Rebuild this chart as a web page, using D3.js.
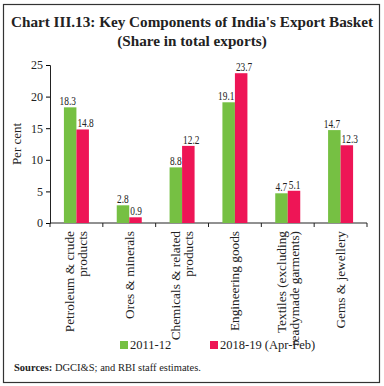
<!DOCTYPE html>
<html>
<head>
<meta charset="utf-8">
<script src="https://cdn.jsdelivr.net/npm/d3@7"></script>
<style>
  body { margin: 0; background: #fff; }
  svg text { font-family: "Liberation Serif", serif; fill: #222; }
</style>
</head>
<body>
<div id="viz-container"></div>
<script>
// data
const categories = [
  ["Petroleum & crude", "products"],
  ["Ores & minerals"],
  ["Chemicals & related", "products"],
  ["Engineering goods"],
  ["Textiles (excluding", "readymade garments)"],
  ["Gems & jewellery"]
];
const series2011 = [18.3, 2.8, 8.8, 19.1, 4.7, 14.7];
const series2018 = [14.8, 0.9, 12.2, 23.7, 5.1, 12.3];
const seriesNames = ["2011-12", "2018-19 (Apr-Feb)"];
const yTicks = [0, 5, 10, 15, 20, 25];
const colors = ["#76c043", "#ee1556"];

const W = 384, H = 386;
const svg = d3.select("#viz-container").append("svg")
    .attr("width", W).attr("height", H);

// frame
svg.append("rect").attr("x", 3.5).attr("y", 4.5).attr("width", 376).attr("height", 378)
    .attr("fill", "none").attr("stroke", "#333").attr("stroke-width", 1.2);

// title
svg.append("text").attr("x", 192).attr("y", 27).attr("text-anchor", "middle")
    .style("font-size", "15.2px").style("font-weight", "bold")
    .text("Chart III.13: Key Components of India's Export Basket");
svg.append("text").attr("x", 192).attr("y", 46).attr("text-anchor", "middle")
    .style("font-size", "15.2px").style("font-weight", "bold")
    .text("(Share in total exports)");

const m = { left: 50, right: 367, top: 65, bottom: 223 };
const x = d3.scaleBand().domain(d3.range(categories.length)).range([m.left, m.right]);
const y = d3.scaleLinear().domain([0, 25]).range([m.bottom, m.top]);
const barW = 12.5;

// y axis
const yAxis = svg.append("g").attr("transform", `translate(${m.left},0)`)
    .call(d3.axisLeft(y).tickValues(yTicks).tickSize(4).tickPadding(3));
yAxis.selectAll("text").style("font-size", "12px");
yAxis.select(".domain").attr("stroke", "#222");

svg.append("text").attr("transform", `translate(21,${(m.top + m.bottom) / 2}) rotate(-90)`)
    .attr("text-anchor", "middle").style("font-size", "13px").text("Per cent");

// x axis with ticks at band boundaries
const xg = svg.append("g").attr("transform", `translate(0,${m.bottom})`);
xg.append("line").attr("x1", m.left).attr("x2", m.right).attr("stroke", "#222");
const bounds = d3.range(categories.length + 1).map(i => m.left + i * x.bandwidth());
xg.selectAll("line.tick").data(bounds).join("line").attr("class", "tick")
    .attr("x1", d => d).attr("x2", d => d).attr("y1", 0).attr("y2", 4).attr("stroke", "#222");

// category labels
const lab = svg.selectAll("g.cat").data(categories).join("g").attr("class", "cat")
    .attr("transform", (d, i) => `translate(${x(i) + x.bandwidth() / 2},${m.bottom + 8}) rotate(-90)`);
lab.each(function(lines) {
  const g = d3.select(this);
  const n = lines.length;
  lines.forEach((t, j) => {
    g.append("text").attr("x", 0).attr("y", (j - (n - 1) / 2) * 13 + 4.5)
      .attr("text-anchor", "end").style("font-size", "13.3px").text(t);
  });
});

// bars
const groups = [series2011, series2018];
groups.forEach((vals, s) => {
  svg.selectAll(`rect.s${s}`).data(vals).join("rect").attr("class", `s${s}`)
    .attr("x", (d, i) => x(i) + x.bandwidth() / 2 - barW + s * barW)
    .attr("width", barW)
    .attr("y", d => y(d)).attr("height", d => y(0) - y(d))
    .attr("fill", colors[s]);
});
// value labels: green one ends at the group centre, red one starts there
groups.forEach((vals, s) => {
  svg.selectAll(`text.v${s}`).data(vals).join("text").attr("class", `v${s}`)
    .attr("transform", (d, i) => {
      const cx = x(i) + x.bandwidth() / 2 + (s ? 1 : -0.5);
      return `translate(${cx},${y(d) - 2}) scale(0.78,1)`;
    })
    .attr("text-anchor", s ? "start" : "end").style("font-size", "12px")
    .text(d => d.toFixed(1));
});

// legend
const legX = [120, 210];
seriesNames.forEach((nm, s) => {
  svg.append("rect").attr("x", legX[s]).attr("y", 341).attr("width", 8).attr("height", 8)
    .attr("fill", colors[s]);
  svg.append("text").attr("x", legX[s] + 10).attr("y", 349).style("font-size", "12.5px").text(nm);
});

// source
const src = svg.append("text").attr("x", 14).attr("y", 371).style("font-size", "10.5px");
src.append("tspan").style("font-weight", "bold").text("Sources: ");
src.append("tspan").text("DGCI&S; and RBI staff estimates.");
</script>
</body>
</html>
